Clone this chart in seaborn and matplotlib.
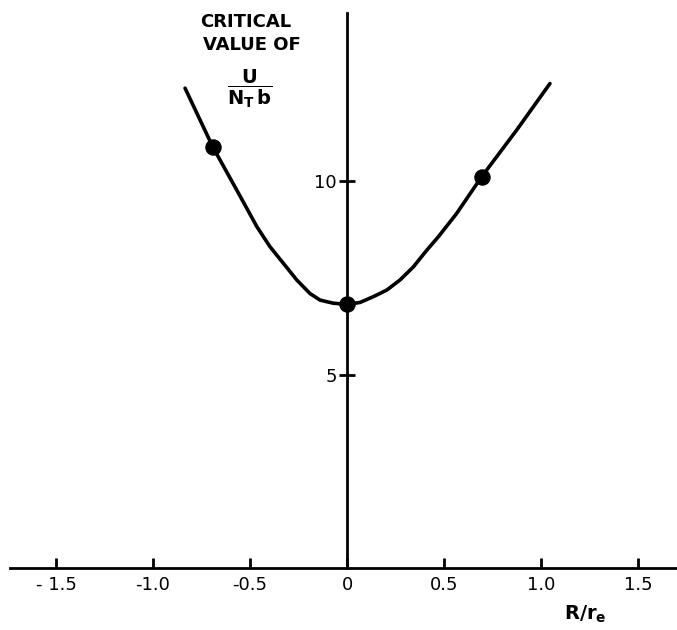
import numpy as np
import pandas as pd
import seaborn as sns
import matplotlib.pyplot as plt

# curve (R/r_e , critical value of U/(N_T b))
curve_x = [-0.835, -0.692, -0.569, -0.465, -0.397, -0.328, -0.259, -0.191, -0.139,
           -0.071, 0.0, 0.067, 0.136, 0.205, 0.273, 0.342, 0.411, 0.471,
           0.565, 0.694, 0.875, 1.046]
curve_y = [12.41, 10.89, 9.78, 8.83, 8.31, 7.88, 7.45, 7.10, 6.93,
           6.85, 6.82, 6.87, 7.02, 7.19, 7.45, 7.79, 8.22, 8.57,
           9.17, 10.12, 11.33, 12.53]

# the three computed points
point_x = [-0.692, 0.0, 0.694]
point_y = [10.89, 6.82, 10.12]

x_ticks = [-1.5, -1.0, -0.5, 0, 0.5, 1.0, 1.5]
x_labels = ['- 1.5', '-1.0', '-0.5', '0', '0.5', '1.0', '1.5']
y_ticks = [5, 10]
y_labels = ['5', '10']

sns.set_style('white')
plt.rcParams['font.family'] = ['DejaVu Sans']
plt.rcParams['mathtext.default'] = 'regular'
plt.rcParams['text.color'] = 'black'

W, H = 677, 630
fig = plt.figure(figsize=(W / 100, H / 100), dpi=100)
ax = fig.add_axes([0, 0, 1, 1])

df_curve = pd.DataFrame({'R': curve_x, 'U': curve_y})
df_pts = pd.DataFrame({'R': point_x, 'U': point_y})

sns.lineplot(data=df_curve, x='R', y='U', ax=ax, color='black', linewidth=2.6,
             sort=True, estimator=None)
sns.scatterplot(data=df_pts, x='R', y='U', ax=ax, color='black', s=120,
                edgecolor='black', zorder=5)

ax.set_xlim(-1.789, 1.701)
ax.set_ylim(-1.60, 14.69)

for s in ['top', 'right']:
    ax.spines[s].set_visible(False)
ax.spines['left'].set_position(('data', 0))
ax.spines['bottom'].set_position(('data', 0))
ax.spines['left'].set_bounds(0, 14.36)
ax.spines['bottom'].set_bounds(-1.74, 1.70)
ax.spines['left'].set_linewidth(2.0)
ax.spines['bottom'].set_linewidth(2.0)
ax.spines['left'].set_color('black')
ax.spines['bottom'].set_color('black')

ax.set_xticks(x_ticks)
ax.set_xticklabels(x_labels)
ax.set_yticks(y_ticks)
ax.set_yticklabels(y_labels)
ax.tick_params(axis='x', direction='in', length=7, width=2, pad=6,
               labelsize=13, colors='black', bottom=True)
ax.tick_params(axis='y', direction='inout', length=11, width=2, pad=2,
               labelsize=13, colors='black', left=True)
ax.set_xlabel('')
ax.set_ylabel('')

# y-axis title, hand-lettered above the curve
fig.text(200 / W, 1 - 22 / H, 'CRITICAL', fontsize=13, fontweight='bold',
         color='black', ha='left', va='center')
fig.text(203 / W, 1 - 45 / H, 'VALUE OF', fontsize=13, fontweight='bold',
         color='black', ha='left', va='center')
fig.text(250 / W, 1 - 89 / H, r'$\dfrac{\mathbf{U}}{\mathbf{N_T\,b}}$',
         fontsize=14, color='black', ha='center', va='center')

# x-axis title
fig.text(585 / W, 1 - 614 / H, r'$R/r_e$', fontsize=14, fontweight='bold',
         color='black', ha='center', va='center')

fig.savefig('out.png', dpi=100)
